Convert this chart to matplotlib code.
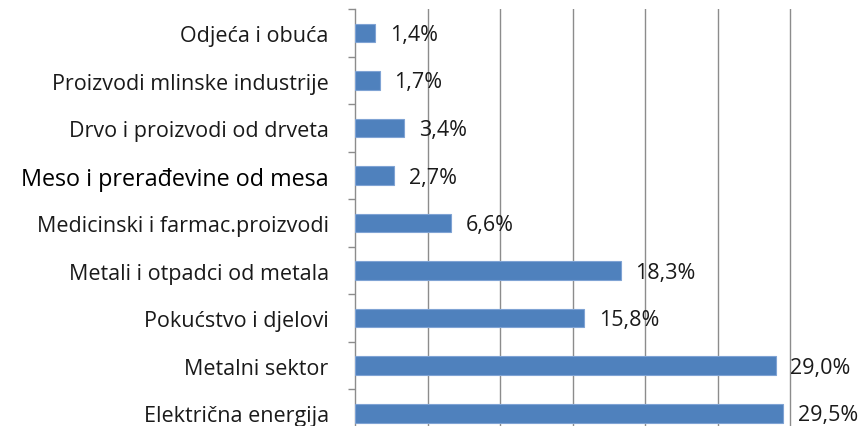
import matplotlib.pyplot as plt
import numpy as np

# === Data (top to bottom as shown) ===
categories = [
    "Odjeća i obuća",
    "Proizvodi mlinske industrije",
    "Drvo i proizvodi od drveta",
    "Meso i prerađevine od mesa",
    "Medicinski i farmac.proizvodi",
    "Metali i otpadci od metala",
    "Pokućstvo i djelovi",
    "Metalni sektor",
    "Električna energija",
]
shares = [1.4, 1.7, 3.4, 2.7, 6.6, 18.3, 15.8, 29.0, 29.5]
value_labels = ["1,4%", "1,7%", "3,4%", "2,7%", "6,6%", "18,3%", "15,8%", "29,0%", "29,5%"]

plt.rcParams['font.family'] = ['Open Sans', 'DejaVu Sans']

fig = plt.figure(figsize=(8.63, 4.27), dpi=100)
ax = fig.add_axes([0.4114, -0.0258, 0.5886, 1.0019])

y = np.arange(len(categories))
ax.barh(y, shares, height=0.39, color="#4F81BD", edgecolor="#7FA3D4", linewidth=0.8, zorder=3)

for yi, v, lab in zip(y, shares, value_labels):
    ax.text(v + 1.0, yi + 0.03, lab, va="center", ha="left", fontsize=15.5, color="#1a1a1a", zorder=4)

ax.set_xlim(0, 35)
ax.set_ylim(len(categories) - 0.5, -0.5)
ax.set_xticks(np.arange(5, 35, 5))
ax.xaxis.grid(True, color="#8C8C8C", linewidth=1.0, zorder=0)
ax.tick_params(axis="x", bottom=False, labelbottom=False)

# category labels at centers, tick marks between categories
ax.set_yticks(y)
ax.set_yticklabels(categories, fontsize=15.5, color="#1a1a1a")
ax.set_yticks(np.arange(-0.5, len(categories), 1), minor=True)
ax.tick_params(axis="y", which="major", length=0, pad=19)
ax.tick_params(axis="y", which="minor", length=5, color="#8C8C8C", width=1)
bold_lab = ax.get_yticklabels()[3]
bold_lab.set_fontsize(16.8)
bold_lab.set_color("black")

for side in ["top", "right", "bottom"]:
    ax.spines[side].set_visible(False)
ax.spines["left"].set_color("#8C8C8C")
ax.spines["left"].set_linewidth(1.0)

plt.savefig("out.png", dpi=100)
plt.close()
